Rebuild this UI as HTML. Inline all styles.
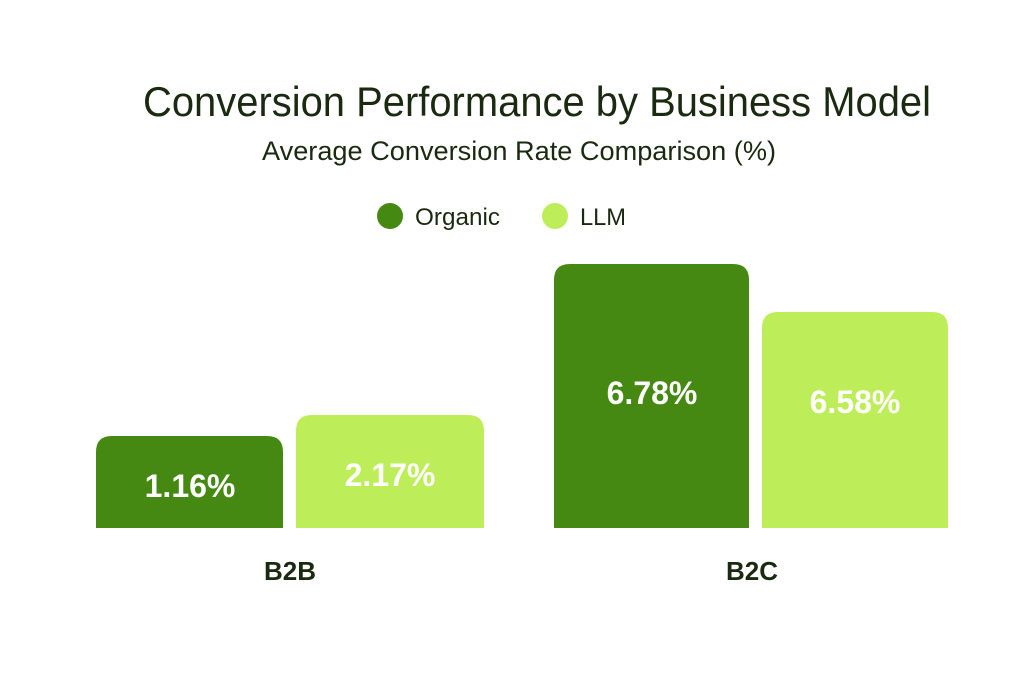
<!DOCTYPE html>
<html><head><meta charset="utf-8"><style>html,body{margin:0;padding:0;background:#fff}</style></head>
<body>
<svg width="1024" height="683" viewBox="0 0 1024 683" xmlns="http://www.w3.org/2000/svg" font-family="Liberation Sans, sans-serif">
<rect width="1024" height="683" fill="#fff"/>
<text x="143" y="116" font-size="42" fill="#1a2a10" textLength="788" lengthAdjust="spacingAndGlyphs">Conversion Performance by Business Model</text>
<text x="262" y="160" font-size="27" fill="#1a2a10" textLength="514" lengthAdjust="spacingAndGlyphs">Average Conversion Rate Comparison (%)</text>
<circle cx="390" cy="216" r="13" fill="#468912"/>
<text x="415" y="225" font-size="24" fill="#1a2a10" textLength="85" lengthAdjust="spacingAndGlyphs">Organic</text>
<circle cx="555" cy="216" r="13" fill="#bdee5a"/>
<text x="580" y="225" font-size="24" fill="#1a2a10" textLength="46" lengthAdjust="spacingAndGlyphs">LLM</text>
<path d="M96 528 V452 Q96 436 112 436 H267 Q283 436 283 452 V528 Z" fill="#468912"/>
<path d="M296 528 V431 Q296 415 312 415 H468 Q484 415 484 431 V528 Z" fill="#bdee5a"/>
<path d="M554 528 V280 Q554 264 570 264 H733 Q749 264 749 280 V528 Z" fill="#468912"/>
<path d="M762 528 V328 Q762 312 778 312 H932 Q948 312 948 328 V528 Z" fill="#bdee5a"/>
<g font-weight="bold" font-size="32" fill="#fff" text-anchor="middle">
<text x="190" y="497">1.16%</text>
<text x="390" y="486">2.17%</text>
<text x="652" y="404">6.78%</text>
<text x="855" y="413">6.58%</text>
</g>
<g font-weight="bold" font-size="26" fill="#1a2a10" text-anchor="middle">
<text x="290" y="580">B2B</text>
<text x="752" y="580">B2C</text>
</g>
</svg>
</body></html>
